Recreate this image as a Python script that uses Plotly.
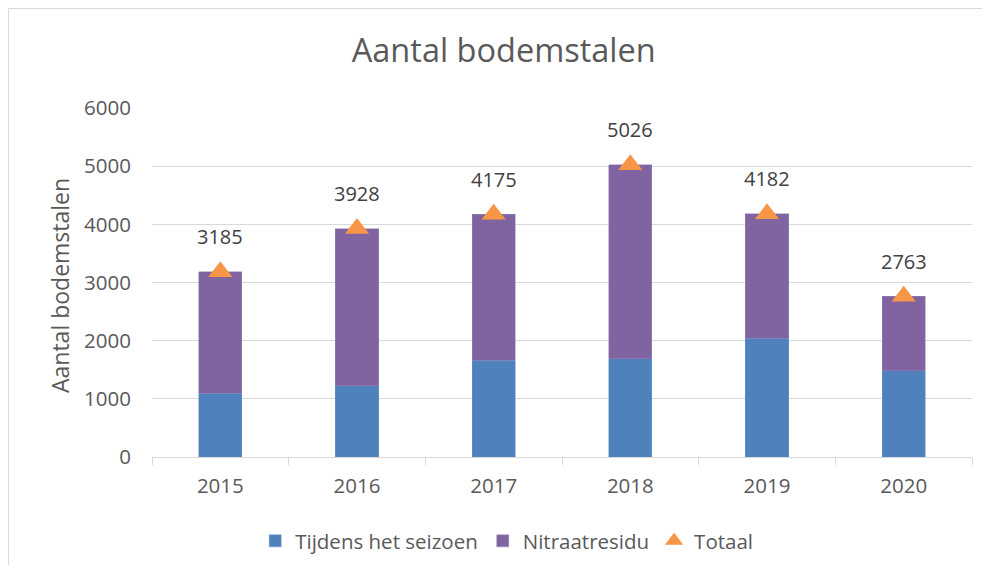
import plotly.graph_objects as go

years = ["2015", "2016", "2017", "2018", "2019", "2020"]
seizoen = [1100, 1225, 1660, 1690, 2040, 1485]
totaal = [3185, 3928, 4175, 5026, 4182, 2763]
nitraat = [t - s for t, s in zip(totaal, seizoen)]
yticks = [0, 1000, 2000, 3000, 4000, 5000, 6000]

FONT = "Open Sans"
TXT = "#595959"

fig = go.Figure()
fig.add_trace(go.Bar(x=years, y=seizoen, name="Tijdens het seizoen",
                     marker=dict(color="#4F81BD", line=dict(color="#6E95C9", width=0.5)),
                     width=0.315))
fig.add_trace(go.Bar(x=years, y=nitraat, name="Nitraatresidu",
                     marker=dict(color="#8064A2", line=dict(color="#9A83B8", width=0.5)),
                     width=0.315))
fig.add_trace(go.Scatter(x=years, y=totaal, name="Totaal", mode="markers",
                         marker=dict(symbol="triangle-up", size=21, color="#F79646")))

annotations = [dict(x=i, y=v, xref="x", yref="y", text=str(v), showarrow=False,
                    yanchor="middle", yshift=35,
                    font=dict(size=20, color="#404040", family=FONT))
               for i, v in enumerate(totaal)]
annotations.append(dict(x=-0.1122, y=0.4928, xref="paper", yref="paper",
                        text="Aantal bodemstalen", textangle=-90, showarrow=False,
                        xanchor="center", yanchor="middle",
                        font=dict(size=23, color=TXT, family=FONT)))

fig.update_layout(
    barmode="stack",
    width=974, height=557,
    margin=dict(l=144, r=10, t=100, b=108, autoexpand=False),
    paper_bgcolor="white", plot_bgcolor="white",
    font=dict(family=FONT, color=TXT, size=18),
    title=dict(text="Aantal bodemstalen", x=0.509, xanchor="center", xref="container",
               y=0.923, yanchor="middle", yref="container",
               font=dict(size=32.5, color=TXT, family=FONT)),
    legend=dict(orientation="h", x=0.512, xanchor="center", xref="container",
                y=0.043, yanchor="middle", yref="container", font=dict(size=20.5, color=TXT),
                traceorder="normal"),
    showlegend=True,
    annotations=annotations,
    xaxis=dict(type="category", showline=True, linecolor="#D9D9D9", linewidth=1,
               ticks="outside", tickson="boundaries", ticklen=7, tickcolor="#D9D9D9",
               tickfont=dict(size=20.5, color=TXT), showgrid=False, tickangle=0,
               automargin=False, ticklabelstandoff=10),
    yaxis=dict(range=[0, 6000], tickvals=yticks, showgrid=True, gridcolor="#D9D9D9",
               gridwidth=1, zeroline=False, showline=False, automargin=False,
               tickfont=dict(size=20.5, color=TXT), ticks="", ticklabelstandoff=20),
    shapes=[dict(type="rect", xref="paper", yref="paper",
                 x0=-0.1751, x1=1.05, y0=-0.4, y1=1.2851,
                 line=dict(color="#D9D9D9", width=1), fillcolor="rgba(0,0,0,0)", layer="below")],
)

fig.write_html("out.html")
